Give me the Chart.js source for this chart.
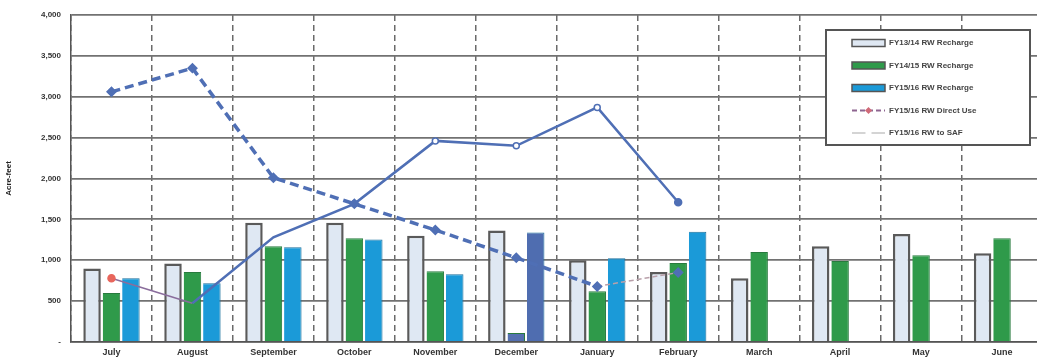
<!DOCTYPE html>
<html>
<head>
<meta charset="utf-8">
<script src="https://cdn.jsdelivr.net/npm/chart.js@4/dist/chart.umd.min.js"></script>
<style>
  html, body { margin: 0; padding: 0; background: #fff; overflow: hidden; }
  #wrap { width: 1050px; height: 362px; }
</style>
</head>
<body>
<div id="wrap"><canvas id="rwChart" width="1050" height="362"></canvas></div>
<script>
// Months of the fiscal year
const months = ['July', 'August', 'September', 'October', 'November', 'December',
                'January', 'February', 'March', 'April', 'May', 'June'];

// Acre-feet
const fy1314Recharge = [900, 960, 1460, 1460, 1300, 1365, 1000, 855, 780, 1170, 1320, 1085];
const fy1415Recharge = [600, 855, 1170, 1270, 865, 110, 620, 965, 1100, 990, 1060, 1270];
const fy1516Recharge = [780, 720, 1160, 1255, 830, 1340, 1025, 1350, null, null, null, null];
const fy1516DirectUse = [3060, 3350, 2010, 1690, 1370, 1030, 680, 850, null, null, null, null];
const fy1516ToSaf = [780, 475, 1280, 1690, 2460, 2400, 2870, 1710, null, null, null, null];

const yTicks = [0, 500, 1000, 1500, 2000, 2500, 3000, 3500, 4000];

const lineBlue = '#4f6fb5';

// Legend drawn inside the plot, like the Excel original
const legendItems = [
    { text: 'FY13/14 RW Recharge', kind: 'box', fill: '#dfe8f3', stroke: '#555' },
    { text: 'FY14/15 RW Recharge', kind: 'box', fill: '#2f9a4a', stroke: '#555' },
    { text: 'FY15/16 RW Recharge', kind: 'box', fill: '#1b9ad8', stroke: '#555' },
    { text: 'FY15/16 RW Direct Use', kind: 'line', color: '#8e6590', dash: [5, 3], marker: '#d06a78' },
    { text: 'FY15/16 RW to SAF', kind: 'line', color: '#d4d4d4', dash: [], marker: '#ffffff' }
];

const boxLegend = {
    id: 'boxLegend',
    afterDraw(chart) {
        const ctx = chart.ctx;
        const x0 = 826, y0 = 30, w = 204, h = 115;
        ctx.save();
        ctx.fillStyle = '#fff';
        ctx.fillRect(x0, y0, w, h);
        ctx.strokeStyle = '#555';
        ctx.lineWidth = 2;
        ctx.strokeRect(x0, y0, w, h);
        ctx.font = 'bold 8px "Liberation Sans", Arial, sans-serif';
        ctx.textBaseline = 'middle';
        legendItems.forEach((item, i) => {
            const cy = y0 + 13 + i * 22.5;
            if (item.kind === 'box') {
                ctx.fillStyle = item.fill;
                ctx.fillRect(852, cy - 3.5, 33, 7);
                ctx.strokeStyle = item.stroke;
                ctx.lineWidth = 1.5;
                ctx.strokeRect(852, cy - 3.5, 33, 7);
            } else {
                ctx.strokeStyle = item.color;
                ctx.lineWidth = 2;
                ctx.setLineDash(item.dash);
                ctx.beginPath();
                ctx.moveTo(852, cy);
                ctx.lineTo(885, cy);
                ctx.stroke();
                ctx.setLineDash([]);
                ctx.fillStyle = item.marker;
                ctx.beginPath();
                ctx.moveTo(868.5, cy - 3.5);
                ctx.lineTo(872, cy);
                ctx.lineTo(868.5, cy + 3.5);
                ctx.lineTo(865, cy);
                ctx.closePath();
                ctx.fill();
            }
            ctx.fillStyle = '#444';
            ctx.fillText(item.text, 889, cy);
        });
        ctx.restore();
    }
};

const ctx = document.getElementById('rwChart').getContext('2d');
new Chart(ctx, {
    type: 'bar',
    data: {
        labels: months,
        datasets: [
            {
                label: 'FY15/16 RW Direct Use',
                type: 'line',
                data: fy1516DirectUse,
                order: 0,
                borderColor: lineBlue,
                borderWidth: 3.5,
                borderDash: [9, 5],
                pointStyle: 'rectRot',
                pointRadius: 3,
                pointBackgroundColor: lineBlue,
                pointBorderColor: lineBlue,
                spanGaps: false,
                segment: {
                    borderColor: c => c.p0DataIndex === 6 ? '#b9a0aa' : undefined,
                    borderWidth: c => c.p0DataIndex === 6 ? 1.5 : undefined,
                    borderDash: c => c.p0DataIndex === 6 ? [5, 3] : undefined
                }
            },
            {
                label: 'FY15/16 RW to SAF',
                type: 'line',
                data: fy1516ToSaf,
                order: 0,
                borderColor: lineBlue,
                borderWidth: 2.5,
                pointRadius: [3.5, 0, 0, 3, 3, 3, 3, 3.5, 0, 0, 0, 0],
                pointBackgroundColor: ['#e8665c', '#fff', '#fff', '#fff', '#fff', '#fff', '#fff', lineBlue],
                pointBorderColor: ['#e8665c', lineBlue, lineBlue, lineBlue, lineBlue, lineBlue, lineBlue, lineBlue],
                pointBorderWidth: 1.5,
                segment: {
                    borderColor: c => c.p0DataIndex === 0 ? '#8a6d9c' : undefined,
                    borderWidth: c => c.p0DataIndex === 0 ? 1.5 : undefined
                }
            },
            {
                label: 'FY13/14 RW Recharge',
                data: fy1314Recharge,
                order: 1,
                backgroundColor: '#dfe8f3',
                borderColor: '#5a5a5a',
                borderWidth: { top: 2.5, left: 2.5, right: 2.5, bottom: 0 }
            },
            {
                label: 'FY14/15 RW Recharge',
                data: fy1415Recharge,
                order: 1,
                backgroundColor: ['#2f9a4a', '#2f9a4a', '#2f9a4a', '#2f9a4a', '#2f9a4a', '#5470b0',
                                  '#2f9a4a', '#2f9a4a', '#2f9a4a', '#2f9a4a', '#2f9a4a', '#2f9a4a'],
                borderColor: '#287a3e',
                borderWidth: { top: 1, left: 0, right: 1, bottom: 0 }
            },
            {
                label: 'FY15/16 RW Recharge',
                data: fy1516Recharge,
                order: 1,
                backgroundColor: ['#1b9ad8', '#1b9ad8', '#1b9ad8', '#1b9ad8', '#1b9ad8', '#4f6db0',
                                  '#1b9ad8', '#1b9ad8'],
                borderColor: '#1a6f9c',
                borderWidth: { top: 1, left: 0, right: 1, bottom: 0 }
            }
        ]
    },
    options: {
        responsive: false,
        animation: false,
        datasets: {
            bar: { categoryPercentage: 0.72, barPercentage: 0.9 }
        },
        layout: { padding: { top: 15, right: 2, bottom: 0, left: 0 } },
        plugins: {
            legend: { display: false },
            tooltip: { enabled: false }
        },
        scales: {
            x: {
                grid: { color: '#6a6a6a', lineWidth: 1.5, drawTicks: false },
                border: { display: true, color: '#555', width: 1.5, dash: [6, 4] },
                ticks: {
                    color: '#333',
                    padding: 5,
                    font: { family: '"Liberation Sans", Arial, sans-serif', size: 9, weight: 'bold' }
                },
                afterFit: s => { s.height = 20; }
            },
            y: {
                min: 0,
                max: 4000,
                afterBuildTicks: s => { s.ticks = yTicks.map(v => ({ value: v })); },
                grid: { color: '#727272', lineWidth: 1.8, drawTicks: false },
                border: { display: true, color: '#555', width: 1.5 },
                ticks: {
                    color: '#333',
                    padding: 10,
                    font: { family: '"Liberation Sans", Arial, sans-serif', size: 8, weight: 'bold' },
                    callback: v => v === 0 ? '-' : v.toLocaleString('en-US')
                },
                title: {
                    display: true,
                    text: 'Acre-feet',
                    color: '#222',
                    padding: { top: 4, bottom: 0 },
                    font: { family: '"Liberation Sans", Arial, sans-serif', size: 8, weight: 'bold' }
                },
                afterFit: s => { s.width = 71; }
            }
        }
    },
    plugins: [boxLegend]
});
</script>
</body>
</html>
